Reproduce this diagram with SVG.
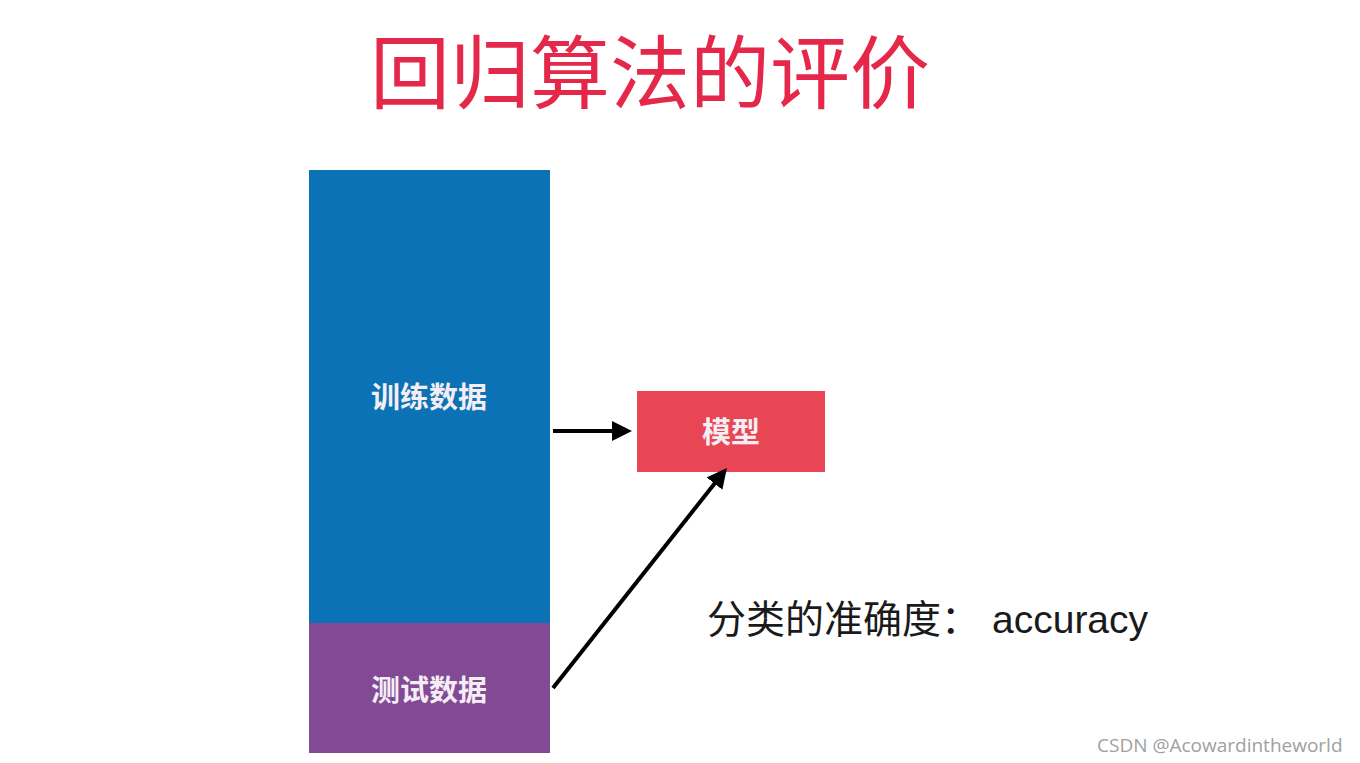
<svg xmlns="http://www.w3.org/2000/svg" width="1360" height="763" viewBox="0 0 1360 763">
<style>
.cjk{font-family:"Noto Sans CJK SC","Noto Sans",sans-serif}
.lbl{fill:#f4eef4;font-size:29px;font-weight:bold;text-anchor:middle}
.conn{stroke:#000;stroke-width:4;fill:none}
</style>
<defs>
<marker id="ah" markerWidth="5" markerHeight="5" refX="1" refY="2.5" orient="auto" markerUnits="strokeWidth">
<path d="M0,0 L5,2.5 L0,5 Z" fill="#000"/>
</marker>
</defs>
<rect width="1360" height="763" fill="#ffffff"/>
<text x="650" y="102" class="cjk" font-size="80" fill="#e5284a" text-anchor="middle">回归算法的评价</text>
<g id="train">
<rect x="309" y="170" width="241" height="453" fill="#0a72b5"/>
<text x="429" y="408" class="cjk lbl">训练数据</text>
</g>
<g id="test">
<rect x="309" y="623" width="241" height="130" fill="#824995"/>
<text x="429" y="701" class="cjk lbl">测试数据</text>
</g>
<g id="model">
<rect x="637" y="391" width="188" height="81" fill="#e84555"/>
<text x="731" y="443" class="cjk lbl">模型</text>
</g>
<g id="connectors">
<line x1="553" y1="431" x2="616" y2="431" class="conn" marker-end="url(#ah)"/>
<line x1="553" y1="688" x2="717" y2="480.5" class="conn" marker-end="url(#ah)"/>
</g>
<text y="633" font-size="39" fill="#1a1a1a" font-family="Liberation Sans, Noto Sans CJK SC, sans-serif"><tspan x="707">分类的准确度：</tspan><tspan x="992">accuracy</tspan></text>
<text x="1097" y="752" font-size="19" fill="#a0a0a0" font-family="Open Sans, sans-serif">CSDN @Acowardintheworld</text>
</svg>
